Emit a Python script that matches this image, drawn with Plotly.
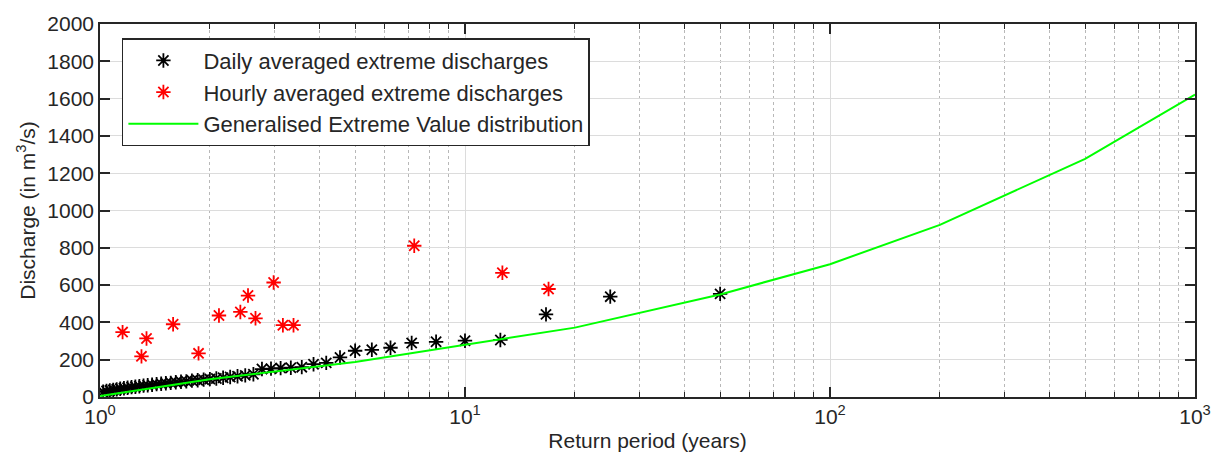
import plotly.graph_objects as go

# Daily averaged extreme discharges (return period in years, discharge m3/s)
daily_T = [50.0, 25.0, 16.67, 12.5, 10.0, 8.333, 7.143, 6.25, 5.556, 5.0,
           4.545, 4.167, 3.846, 3.571, 3.333, 3.125, 2.941, 2.778, 2.632, 2.5,
           2.381, 2.273, 2.174, 2.083, 2.0, 1.923, 1.852, 1.786, 1.724, 1.667,
           1.613, 1.5625, 1.515, 1.471, 1.429, 1.389, 1.351, 1.316, 1.282, 1.25,
           1.22, 1.19, 1.163, 1.136, 1.111, 1.087, 1.064, 1.042, 1.02]
daily_Q = [553, 538, 443, 306, 302, 296, 290, 264, 253, 248,
           212, 183, 176, 160, 157, 155, 152, 150, 122, 116,
           111, 107, 103, 99, 96, 93, 90, 88, 84, 82,
           79, 76, 74, 71, 69, 66, 63, 61, 58, 55,
           53, 50, 47, 44, 41, 38, 35, 32, 28]

# Hourly averaged extreme discharges
hourly_T = [16.94, 12.66, 7.26, 3.39, 3.17, 2.99, 2.667, 2.544, 2.424, 2.118,
            1.862, 1.586, 1.341, 1.299, 1.153]
hourly_Q = [579, 666, 811, 385, 385, 614, 422, 544, 456, 437,
            234, 390, 314, 218, 348]

# Generalised Extreme Value distribution
gev_T = [1.001, 2, 5, 10, 20, 50, 100, 200, 500, 1000]
gev_Q = [5, 95, 188, 278, 372, 550, 712, 923, 1277, 1622]

x_tickvals = [1, 10, 100, 1000]
x_ticktext = ["10<sup>0</sup>", "10<sup>1</sup>", "10<sup>2</sup>", "10<sup>3</sup>"]
y_tickvals = list(range(0, 2001, 200))
minor_vals = [m * 10 ** d for d in range(3) for m in range(2, 10)]

FONT = "Liberation Sans, Arial, Helvetica, sans-serif"
AX = "#262626"
FS = 21

fig = go.Figure()
fig.add_trace(go.Scatter(
    x=daily_T, y=daily_Q, mode="markers", name="Daily averaged extreme discharges",
    marker=dict(symbol="asterisk-open", size=12, color="black",
                line=dict(color="black", width=1.8))))
fig.add_trace(go.Scatter(
    x=hourly_T, y=hourly_Q, mode="markers", name="Hourly averaged extreme discharges",
    marker=dict(symbol="asterisk-open", size=12, color="red",
                line=dict(color="red", width=1.8))))
fig.add_trace(go.Scatter(
    x=gev_T, y=gev_Q, mode="lines", name="Generalised Extreme Value distribution",
    line=dict(color="#00ff00", width=2)))

fig.update_layout(
    width=1223, height=461,
    margin=dict(l=100, r=24, t=17, b=64),
    paper_bgcolor="white", plot_bgcolor="white",
    font=dict(family=FONT, size=FS, color=AX),
    showlegend=True,
    legend=dict(x=0.02, y=0.962, xanchor="left", yanchor="top",
                bgcolor="white", bordercolor=AX, borderwidth=1.5,
                font=dict(size=22, color=AX), tracegroupgap=0,
                itemwidth=70),
)
fig.update_xaxes(
    type="log", range=[0, 3],
    tickvals=x_tickvals, ticktext=x_ticktext,
    ticks="inside", ticklen=10, tickwidth=1.5, tickcolor=AX,
    showline=True, linecolor=AX, linewidth=1.5, mirror="ticks",
    showgrid=True, gridcolor="#dcdcdc", gridwidth=1,
    zeroline=False,
    minor=dict(tickvals=minor_vals, ticks="inside", ticklen=5, tickwidth=1.2,
               tickcolor=AX, showgrid=True, gridcolor="#b8b8b8", griddash="dot",
               gridwidth=1),
    title=dict(text="Return period (years)", font=dict(size=FS, color=AX), standoff=6),
    tickfont=dict(size=FS, color=AX),
)
fig.update_yaxes(
    range=[0, 2000], tickvals=y_tickvals,
    ticks="inside", ticklen=10, tickwidth=1.5, tickcolor=AX,
    showline=True, linecolor=AX, linewidth=1.5, mirror="ticks",
    showgrid=True, gridcolor="#dcdcdc", gridwidth=1,
    zeroline=False,
    title=dict(text="Discharge (in m<sup>3</sup>/s)", font=dict(size=FS, color=AX), standoff=6),
    tickfont=dict(size=FS, color=AX),
)

fig.write_html("out.html")
